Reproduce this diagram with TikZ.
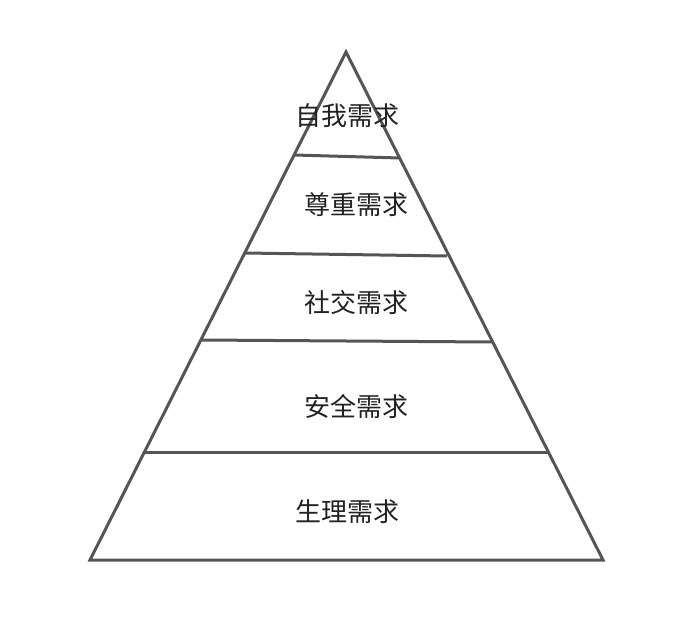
\documentclass[tikz,border=0pt]{standalone}
\usepackage{fontspec}
\newfontfamily\cjk{Noto Sans CJK SC}
\definecolor{edge}{HTML}{555555}
\definecolor{txt}{HTML}{222222}
\begin{document}
\begin{tikzpicture}[x=1pt,y=-1pt,
  lvl/.style={draw=edge,line width=3pt},
  lab/.style={font=\cjk\fontsize{26}{30}\selectfont,text=txt,inner sep=0pt}]
\useasboundingbox (0,0) rectangle (694,618);
\fill[white] (0,0) rectangle (694,618);
\draw[lvl,line join=miter] (346,52) -- (603,560) -- (90,560) -- cycle;
\draw[lvl] (294,155) -- (400,158);
\draw[lvl] (245,253) -- (447,256);
\draw[lvl] (201,340) -- (492,342);
\draw[lvl] (143,452) -- (548,452);
\node[lab] (l1) at (347,116) {自我需求};
\node[lab] (l2) at (356,205) {尊重需求};
\node[lab] (l3) at (356,303) {社交需求};
\node[lab] (l4) at (356,407) {安全需求};
\node[lab] (l5) at (347,512) {生理需求};
\end{tikzpicture}
\end{document}
